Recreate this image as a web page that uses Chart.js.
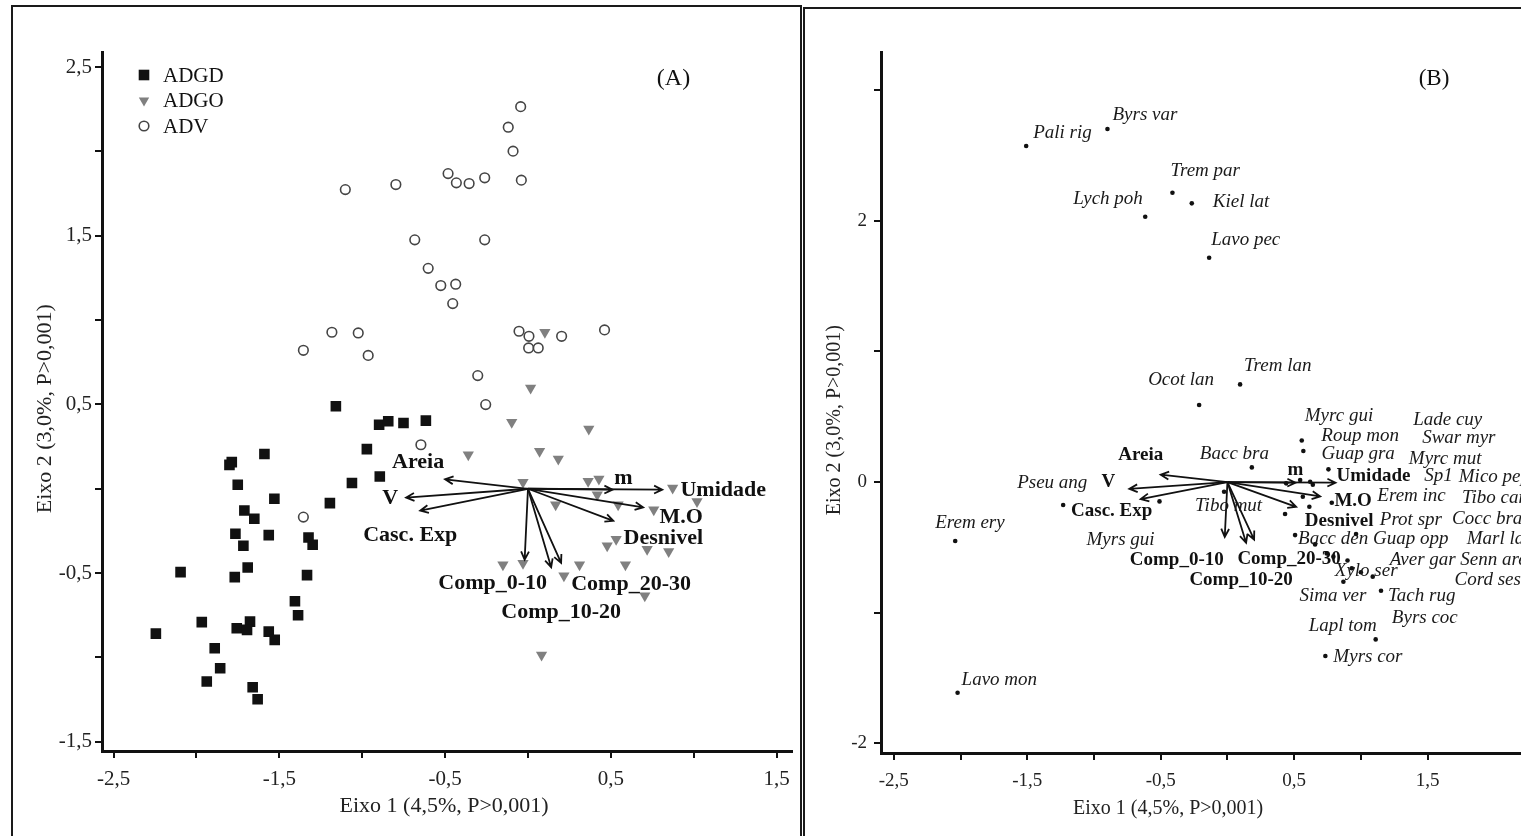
<!DOCTYPE html>
<html>
<head>
<meta charset="utf-8">
<script src="https://cdn.jsdelivr.net/npm/chart.js@4.4.1/dist/chart.umd.min.js"></script>
<style>
  html, body { margin: 0; padding: 0; background: #fff; overflow: hidden; width: 1521px; height: 836px; }
  .frame { position: absolute; border: 2px solid #1a1a1a; box-sizing: border-box; }
  #frameA { left: 11px; top: 5px; width: 791px; height: 900px; }
  #frameB { left: 803px; top: 7px; width: 800px; height: 900px; }
  .wrap { position: absolute; }
  #wrapA { left: 13px; top: 7px; width: 786px; height: 829px; }
  #wrapB { left: 806px; top: 9px; width: 760px; height: 827px; }
</style>
</head>
<body>
<div class="frame" id="frameA"></div>
<div class="frame" id="frameB"></div>
<div class="wrap" id="wrapA"><canvas id="chartA"></canvas></div>
<div class="wrap" id="wrapB"><canvas id="chartB"></canvas></div>

<script>
const SERIF = '"Liberation Serif", "Times New Roman", serif';

// ---- panel A : sites ----
const adgdX = [-1.159, -0.898, -0.843, -0.751, -0.616, -0.972, -0.894, -1.062, -1.195, -1.787, -1.801, -1.590, -1.751,
  -1.530, -1.711, -1.651, -1.765, -1.564, -1.717, -1.324, -1.299, -2.096, -1.691, -1.769, -1.333, -1.406, -1.387,
  -2.245, -1.968, -1.757, -1.677, -1.695, -1.564, -1.528, -1.890, -1.857, -1.938, -1.661, -1.631];
const adgdY = [0.489, 0.380, 0.400, 0.390, 0.404, 0.235, 0.073, 0.034, -0.085, 0.158, 0.142, 0.206, 0.024,
  -0.059, -0.129, -0.178, -0.267, -0.275, -0.338, -0.289, -0.332, -0.494, -0.467, -0.524, -0.512, -0.667, -0.750,
  -0.859, -0.791, -0.827, -0.788, -0.837, -0.847, -0.896, -0.946, -1.064, -1.143, -1.177, -1.248];

const adgoX = [-0.098, 0.367, -0.360, 0.070, 0.183, -0.030, 0.363, 0.428, 0.873, 1.020, 0.418, 0.167, 0.544, 0.759,
  0.532, 0.478, 0.719, 0.849, -0.151, -0.030, 0.311, 0.588, 0.217, 0.705, 0.082, 0.102, 0.016];
const adgoY = [0.394, 0.354, 0.202, 0.222, 0.176, 0.038, 0.044, 0.058, 0.004, -0.075, -0.036, -0.095, -0.095, -0.125,
  -0.299, -0.338, -0.358, -0.372, -0.451, -0.441, -0.451, -0.451, -0.516, -0.635, -0.985, 0.928, 0.598];

const advX = [-0.044, -0.119, -0.090, -0.040, -0.797, -0.482, -0.432, -0.355, -0.261, -0.683, -0.261, -0.602, -0.526,
  -0.436, -0.454, -0.054, 0.006, 0.004, 0.062, 0.203, 0.462, -0.303, -0.255, -1.102, -1.355, -1.183, -1.024, -0.964,
  -0.646, -1.355];
const advY = [2.266, 2.144, 2.002, 1.830, 1.804, 1.869, 1.814, 1.810, 1.844, 1.476, 1.476, 1.307, 1.205,
  1.213, 1.098, 0.934, 0.904, 0.835, 0.835, 0.904, 0.942, 0.671, 0.499, 1.774, 0.821, 0.928, 0.924, 0.791,
  0.261, -0.168];

// ---- environmental vectors (both panels) ----
const envNames = ['Areia', 'V', 'Casc. Exp', 'm', 'Umidade', 'M.O', 'Desnivel', 'Comp_0-10', 'Comp_10-20', 'Comp_20-30'];
const envX = [-0.50, -0.735, -0.65, 0.51, 0.81, 0.695, 0.515, -0.02, 0.14, 0.20];
const envY = [0.056, -0.052, -0.13, -0.005, -0.005, -0.11, -0.19, -0.42, -0.465, -0.44];

// ---- panel B : species ----
const sppNames = ['Pali rig', 'Byrs var', 'Trem par', 'Kiel lat', 'Lych poh', 'Lavo pec', 'Trem lan', 'Ocot lan',
  'Bacc bra', 'Pseu ang', 'Erem ery', 'Lavo mon', 'Myrs gui', 'Tibo mut', 'Myrc gui', 'Roup mon', 'Guap gra',
  'Lade cuy', 'Swar myr', 'Sp1', 'Myrc mut', 'Erem inc', 'Mico pep', 'Tibo can', 'Guap opp', 'Bacc den',
  'Cocc bra', 'Marl lae', 'Xylo ser', 'Aver gar', 'Sima ver', 'Tach rug', 'Lapl tom', 'Byrs coc', 'Myrs cor',
  'Senn are', 'Cord ses', 'Prot spr'];
const sppX = [-1.508, -0.899, -0.412, -0.267, -0.616, -0.137, 0.095, -0.212, 0.183, -1.231, -2.040, -2.022, -0.509,
  -0.025, 0.557, 0.569, 0.757, 0.620, 0.545, 0.440, 0.565, 0.614, 0.782, 0.432, 0.964, 0.507, 0.657, 0.744, 0.932,
  1.089, 0.869, 1.151, 1.111, 1.000, 0.734, 0.794, 0.900, 0.640];
const sppY = [2.571, 2.701, 2.213, 2.132, 2.030, 1.716, 0.747, 0.589, 0.112, -0.176, -0.451, -1.612, -0.148,
  -0.074, 0.318, 0.237, 0.097, 0.002, 0.015, -0.010, -0.112, -0.189, -0.158, -0.245, -0.398, -0.406, -0.477, -0.546,
  -0.660, -0.724, -0.763, -0.832, -1.204, -0.690, -1.331, -0.571, -0.600, -0.020];

// ---- ticks ----
const xTicks = [-2.5, -2, -1.5, -1, -0.5, 0, 0.5, 1, 1.5];
const xTickLabels = ['-2,5', '', '-1,5', '', '-0,5', '', '0,5', '', '1,5'];
const yTicksA = [-1.5, -1, -0.5, 0, 0.5, 1, 1.5, 2, 2.5];
const yTickLabelsA = ['-1,5', '', '-0,5', '', '0,5', '', '1,5', '', '2,5'];
const yTicksB = [-2, -1, 0, 1, 2, 3];
const yTickLabelsB = ['-2', '', '0', '', '2', ''];

const xTitle = 'Eixo 1 (4,5%, P>0,001)';
const yTitle = 'Eixo 2 (3,0%, P>0,001)';

// label placement (pixels, relative to arrow tip / species point)
const envOffsetsA = [[-27, -17], [-16, 1], [-10, 25], [11, -11], [61, 1], [38, 10], [50, 18], [-32, 24], [10, 45], [70, 21]];
const envOffsetsB = [[-20, -20], [-21, -7], [-29, 12], [0, -13], [38, -7], [33, 5], [43, 14], [-48, 23], [-5, 37], [35, 20]];
const sppOffsets = [[7, -13], [5, -14], [-2, -22], [21, -1], [-72, -18], [2, -18], [4, -18], [-51, -25], [-52, -13],
  [-46, -22], [-20, -18], [4, -13], [-73, 39], [-29, 14], [3, -24], [18, -15], [-7, -15], [103, -62], [122, -42],
  [138, -7], [106, -38], [68, -11], [127, -26], [177, -16], [17, 5], [3, 4], [137, -25], [140, -14], [-17, 3],
  [17, -17], [-44, 14], [7, 5], [-67, -13], [31, 46], [8, 1], [127, 3], [107, 20], [67, 35]];

const pts = (xs, ys) => xs.map((v, i) => ({ x: v, y: ys[i] }));

function arrow(ctx, x0, y0, x1, y1) {
  const a = Math.atan2(y1 - y0, x1 - x0), h = 9, s = 0.45;
  ctx.beginPath();
  ctx.moveTo(x0, y0);
  ctx.lineTo(x1, y1);
  ctx.moveTo(x1 - h * Math.cos(a - s), y1 - h * Math.sin(a - s));
  ctx.lineTo(x1, y1);
  ctx.lineTo(x1 - h * Math.cos(a + s), y1 - h * Math.sin(a + s));
  ctx.stroke();
}

// draws vectors, labels, legend, panel tag and axis titles
const biplot = {
  id: 'biplot',
  afterDatasetsDraw(chart, args, o) {
    const { ctx, chartArea: ca } = chart;
    const sx = chart.scales.x, sy = chart.scales.y;
    ctx.save();

    const x0 = sx.getPixelForValue(0), y0 = sy.getPixelForValue(0);
    ctx.strokeStyle = '#111';
    ctx.lineWidth = 1.8;
    envX.forEach((v, i) => arrow(ctx, x0, y0, sx.getPixelForValue(v), sy.getPixelForValue(envY[i])));

    if (o.species) {
      ctx.fillStyle = '#1a1a1a';
      ctx.font = 'italic ' + o.sppSize + 'px ' + SERIF;
      ctx.textAlign = 'left';
      ctx.textBaseline = 'middle';
      sppNames.forEach((n, i) => {
        ctx.fillText(n, sx.getPixelForValue(sppX[i]) + sppOffsets[i][0], sy.getPixelForValue(sppY[i]) + sppOffsets[i][1]);
      });
    }

    ctx.fillStyle = '#111';
    ctx.font = 'bold ' + o.envSize + 'px ' + SERIF;
    ctx.textAlign = 'center';
    ctx.textBaseline = 'middle';
    envNames.forEach((n, i) => {
      ctx.fillText(n, sx.getPixelForValue(envX[i]) + o.envOffsets[i][0], sy.getPixelForValue(envY[i]) + o.envOffsets[i][1]);
    });

    if (o.legend) {
      ctx.font = o.legendSize + 'px ' + SERIF;
      ctx.textAlign = 'left';
      chart.data.datasets.forEach((ds, i) => {
        const lx = ca.left + 42, ly = ca.top + 23 + i * 25.5;
        ctx.fillStyle = ds.backgroundColor;
        ctx.strokeStyle = ds.borderColor;
        ctx.lineWidth = ds.borderWidth;
        Chart.helpers.drawPoint(ctx, {
          pointStyle: ds.pointStyle, rotation: ds.pointRotation || 0,
          radius: ds.legendRadius, borderWidth: ds.borderWidth
        }, lx, ly);
        ctx.fillStyle = '#111';
        ctx.fillText(ds.label, lx + 19, ly + 1);
      });
    }

    ctx.fillStyle = '#111';
    ctx.font = o.tagSize + 'px ' + SERIF;
    ctx.textAlign = 'center';
    ctx.fillText(o.tag, ca.right - o.tagRight, ca.top + 27);

    ctx.fillStyle = '#222';
    ctx.font = o.titleSize + 'px ' + SERIF;
    ctx.fillText(xTitle, sx.getPixelForValue(o.xTitleAt), ca.bottom + o.xTitleGap);
    ctx.translate(ca.left - o.yTitleGap, sy.getPixelForValue(o.yTitleAt));
    ctx.rotate(-Math.PI / 2);
    ctx.fillText(yTitle, 0, 0);
    ctx.restore();
  }
};

function axis(ticks, labels, min, max, size, fontSize, pad) {
  return {
    type: 'linear',
    min: min,
    max: max,
    bounds: 'data',
    afterBuildTicks: (s) => { s.ticks = ticks.map(v => ({ value: v })); },
    afterFit: (s) => { if (s.isHorizontal()) s.height = size; else s.width = size; },
    grid: { display: true, drawOnChartArea: false, drawTicks: true, tickLength: 7, color: '#111', lineWidth: 2 },
    border: { display: true, color: '#111', width: 3 },
    ticks: {
      autoSkip: false, maxRotation: 0, padding: pad, color: '#222',
      font: { family: SERIF, size: fontSize },
      callback: (v, i) => labels[i]
    }
  };
}

Chart.register(biplot);

new Chart(document.getElementById('chartA'), {
  type: 'scatter',
  data: {
    datasets: [
      { label: 'ADGD', data: pts(adgdX, adgdY), pointStyle: 'rect', pointRadius: 7.5, legendRadius: 7.5,
        backgroundColor: '#111', borderColor: '#111', borderWidth: 0 },
      { label: 'ADGO', data: pts(adgoX, adgoY), pointStyle: 'triangle', pointRotation: 180, pointRadius: 6.5, legendRadius: 6,
        backgroundColor: '#808080', borderColor: '#808080', borderWidth: 0 },
      { label: 'ADV', data: pts(advX, advY), pointStyle: 'circle', pointRadius: 4.8, legendRadius: 4.8,
        backgroundColor: '#fff', borderColor: '#454545', borderWidth: 1.6 }
    ]
  },
  options: {
    responsive: true,
    maintainAspectRatio: false,
    animation: false,
    events: [],
    layout: { padding: { top: 45, right: 6, left: 0, bottom: 0 } },
    scales: {
      x: axis(xTicks, xTickLabels, -2.57, 1.59, 85, 21, 9),
      y: axis(yTicksA, yTickLabelsA, -1.555, 2.59, 89, 21, 3)
    },
    plugins: {
      legend: { display: false },
      tooltip: { enabled: false },
      biplot: {
        envOffsets: envOffsetsA, envSize: 22, legend: true, legendSize: 21,
        tag: '(A)', tagSize: 24, tagRight: 118,
        titleSize: 22, xTitleAt: -0.506, xTitleGap: 55, yTitleAt: 0.475, yTitleGap: 57
      }
    }
  }
});

new Chart(document.getElementById('chartB'), {
  type: 'scatter',
  data: {
    datasets: [
      { label: 'Espécies', data: pts(sppX, sppY), pointStyle: 'circle', pointRadius: 2.3,
        backgroundColor: '#111', borderColor: '#111', borderWidth: 0 }
    ]
  },
  options: {
    responsive: true,
    maintainAspectRatio: false,
    animation: false,
    events: [],
    layout: { padding: { top: 43, right: 41, left: 0, bottom: 0 } },
    scales: {
      x: axis(xTicks, xTickLabels, -2.596, 2.23, 83, 19, 10),
      y: axis(yTicksB, yTickLabelsB, -2.073, 3.29, 75, 19, 7)
    },
    plugins: {
      legend: { display: false },
      tooltip: { enabled: false },
      biplot: {
        envOffsets: envOffsetsB, envSize: 19, species: true, sppSize: 19, legend: false,
        tag: '(B)', tagSize: 23, tagRight: 91,
        titleSize: 20, xTitleAt: -0.444, xTitleGap: 56, yTitleAt: 0.474, yTitleGap: 46
      }
    }
  }
});
</script>
</body>
</html>
